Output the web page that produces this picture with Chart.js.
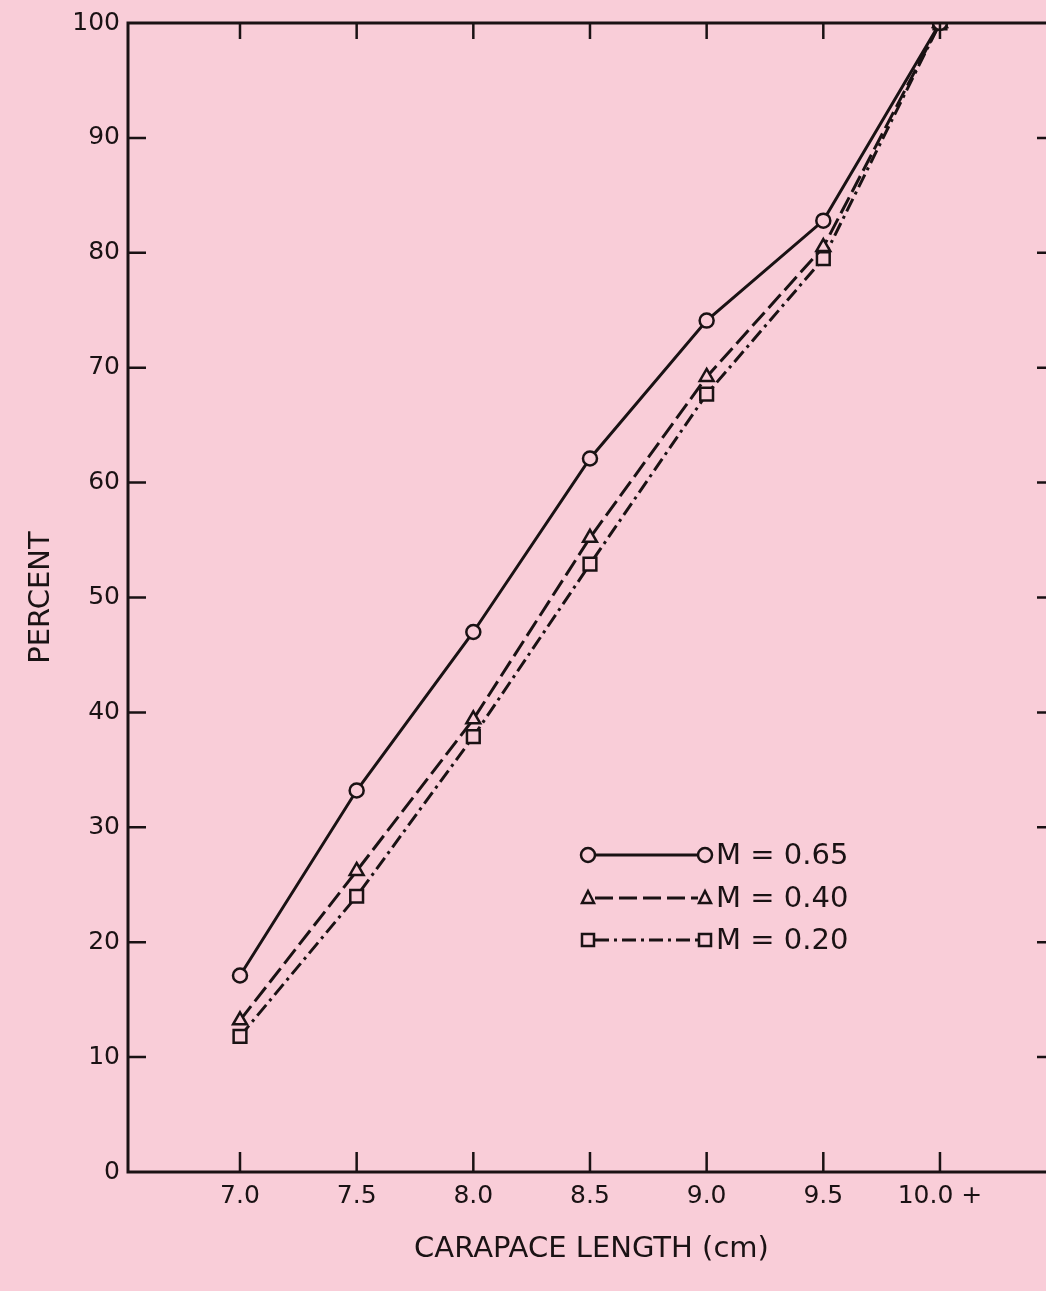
<!DOCTYPE html>
<html>
<head>
<meta charset="utf-8">
<script src="https://cdn.jsdelivr.net/npm/chart.js@4"></script>
<style>
  html, body { margin: 0; padding: 0; background: #f9cdd8; overflow: hidden; }
  #wrap { width: 1070px; height: 1291px; }
</style>
</head>
<body>
<div id="wrap"><canvas id="chart" width="1070" height="1291"></canvas></div>
<script>
// carapace length classes (10.0 means 10.0+)
var lengths = [7.0, 7.5, 8.0, 8.5, 9.0, 9.5, 10.0];
var m065 = [17.1, 33.2, 47.0, 62.1, 74.1, 82.8, 100];
var m040 = [13.2, 26.2, 39.4, 55.2, 69.2, 80.5, 100];
var m020 = [11.8, 24.0, 37.9, 52.9, 67.7, 79.5, 100];
var yTicks = [0, 10, 20, 30, 40, 50, 60, 70, 80, 90, 100];
var seriesNames = ["M = 0.65", "M = 0.40", "M = 0.20"];

var ink = "#1a1214";
var bg = "#f9cdd8";
var font = "'DejaVu Sans', sans-serif";

function pts(vals) {
  return lengths.map((x, i) => ({ x: x, y: vals[i] }));
}

// frame, inward ticks and the little legend
const framePlugin = {
  id: "frame",
  afterDraw(chart) {
    const ctx = chart.ctx;
    const a = chart.chartArea;
    const xs = chart.scales.x;
    const ys = chart.scales.y;
    ctx.save();
    ctx.strokeStyle = ink;
    ctx.lineWidth = 3;
    ctx.strokeRect(a.left, a.top, a.right - a.left, a.bottom - a.top);
    ctx.lineWidth = 2.5;
    ctx.beginPath();
    yTicks.forEach((v) => {
      const y = ys.getPixelForValue(v);
      if (v > 0 && v < 100) {
        ctx.moveTo(a.left, y);
        ctx.lineTo(a.left + 18, y);
        ctx.moveTo(a.right, y);
        ctx.lineTo(a.right - 18, y);
      }
    });
    lengths.forEach((v) => {
      const x = xs.getPixelForValue(v);
      ctx.moveTo(x, a.bottom);
      ctx.lineTo(x, a.bottom - 20);
      ctx.moveTo(x, a.top);
      ctx.lineTo(x, a.top + 16);
    });
    ctx.stroke();

    // legend
    const lx0 = 588, lx1 = 705, rows = [855, 898, 940];
    chart.data.datasets.forEach((ds, i) => {
      const y = rows[i];
      ctx.setLineDash(ds.borderDash || []);
      ctx.lineWidth = 3;
      ctx.beginPath();
      ctx.moveTo(lx0 + 7, y);
      ctx.lineTo(lx1 - 7, y);
      ctx.stroke();
      ctx.setLineDash([]);
      ctx.lineWidth = 2.5;
      ctx.fillStyle = bg;
      [lx0, lx1].forEach((px) => {
        ctx.beginPath();
        if (ds.pointStyle === "circle") {
          ctx.arc(px, y, 7, 0, Math.PI * 2);
        } else if (ds.pointStyle === "triangle") {
          ctx.moveTo(px, y - 7);
          ctx.lineTo(px + 6, y + 5);
          ctx.lineTo(px - 6, y + 5);
          ctx.closePath();
        } else {
          ctx.rect(px - 6, y - 6, 12, 12);
        }
        ctx.fill();
        ctx.stroke();
      });
      ctx.fillStyle = ink;
      ctx.font = "29px " + font;
      ctx.textBaseline = "middle";
      ctx.textAlign = "left";
      ctx.fillText(seriesNames[i], lx1 + 11, y + 1);
    });
    ctx.restore();
  },
};

const ctx = document.getElementById("chart").getContext("2d");
const chart = new Chart(ctx, {
  type: "line",
  data: {
    datasets: [
      {
        label: seriesNames[0],
        data: pts(m065),
        borderColor: ink,
        borderWidth: 3,
        pointStyle: "circle",
        pointRadius: 7,
        pointBorderWidth: 2.5,
        pointBackgroundColor: bg,
        pointBorderColor: ink,
        order: 0,
      },
      {
        label: seriesNames[1],
        data: pts(m040),
        borderColor: ink,
        borderWidth: 3,
        borderDash: [18, 6],
        pointStyle: "triangle",
        pointRadius: 8,
        pointBorderWidth: 2.5,
        pointBackgroundColor: bg,
        pointBorderColor: ink,
        order: 1,
      },
      {
        label: seriesNames[2],
        data: pts(m020),
        borderColor: ink,
        borderWidth: 3,
        borderDash: [14, 5, 3, 5],
        pointStyle: "rect",
        pointRadius: 9,
        pointBorderWidth: 2.5,
        pointBackgroundColor: bg,
        pointBorderColor: ink,
        order: 2,
      },
    ],
  },
  options: {
    responsive: false,
    animation: false,
    devicePixelRatio: 1,
    layout: { padding: { top: 18, right: 15, left: 0, bottom: 0 } },
    plugins: {
      legend: { display: false },
      tooltip: { enabled: false },
    },
    scales: {
      x: {
        type: "linear",
        min: 6.52,
        max: 10.493,
        afterBuildTicks: (scale) => {
          scale.ticks = lengths.map((v) => ({ value: v }));
        },
        afterFit: (scale) => {
          scale.height = 119;
        },
        grid: { display: false, drawTicks: false },
        border: { display: false },
        ticks: {
          color: ink,
          font: { family: font, size: 25 },
          padding: 9,
          maxRotation: 0,
          callback: (v) => (v === 10 ? "10.0 +" : v.toFixed(1)),
        },
        title: {
          display: true,
          text: "CARAPACE LENGTH (cm)",
          color: ink,
          font: { family: font, size: 29 },
          padding: { top: 20, bottom: 24 },
        },
      },
      y: {
        min: 0,
        max: 100,
        afterBuildTicks: (scale) => {
          scale.ticks = yTicks.map((v) => ({ value: v }));
        },
        afterFit: (scale) => {
          scale.width = 128;
        },
        grid: { display: false, drawTicks: false },
        border: { display: false },
        ticks: {
          color: ink,
          font: { family: font, size: 25 },
          padding: 8,
        },
        title: {
          display: true,
          text: "PERCENT",
          color: ink,
          font: { family: font, size: 29 },
          padding: { top: 24, bottom: 0 },
        },
      },
    },
  },
  plugins: [framePlugin],
});
</script>
</body>
</html>
